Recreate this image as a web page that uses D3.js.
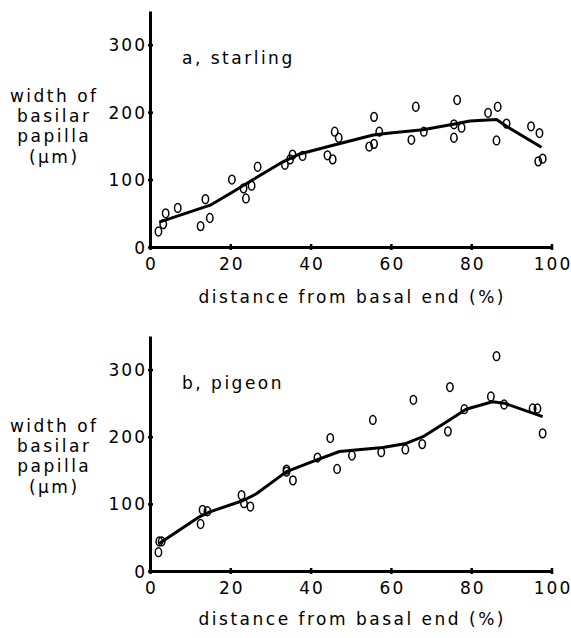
<!DOCTYPE html>
<html>
<head>
<meta charset="utf-8">
<script src="https://cdn.jsdelivr.net/npm/d3@7/dist/d3.min.js"></script>
<style>
	body { margin: 0; background: #fff; }
	text { font-family: "DejaVu Sans", sans-serif; font-size: 17px; fill: #000; letter-spacing: 2.5px; }
	.tick text { letter-spacing: 2px; }
</style>
</head>
<body>
<svg width="571" height="638"></svg>
<script>
// tick labels
var xTicks = [0, 20, 40, 60, 80, 100];
var yTicks = [0, 100, 200, 300];

// a, starling - measured points
var starlingX = [2.1, 3.3, 3.9, 6.9, 12.6, 13.8, 14.9, 20.4, 23.3, 23.9, 25.3, 26.8, 33.6, 34.9, 35.5, 38,
	44.2, 45.5, 46, 47, 54.6, 55.8, 55.8, 57.1, 65.1, 66.2, 68.2, 75.7, 75.7, 76.5, 77.6,
	84.2, 86.6, 86.3, 88.8, 94.9, 97, 96.7, 97.8];
var starlingY = [23, 34, 50, 58, 31, 71, 43, 100, 87, 72, 91, 119, 122, 130, 137, 135,
	136, 130, 171, 162, 149, 153, 193, 171, 159, 208, 171, 162, 182, 218, 177,
	199, 208, 158, 183, 179, 169, 127, 131];
// a, starling - fitted curve
var starlingLineX = [2.3, 15, 20.7, 25.7, 33, 37.3, 45.6, 55.6, 59.8, 68, 75.5, 79.7, 86.3, 88.8, 97.5];
var starlingLineY = [37, 62, 82, 100, 126, 138, 151, 166, 169, 174, 182, 187, 189, 179, 148];

// b, pigeon - measured points
var pigeonX = [2.1, 2.3, 2.9, 12.6, 13.1, 14.3, 22.8, 23.4, 25, 34, 34, 35.6, 41.7, 44.9, 46.6, 50.3,
	55.5, 57.6, 63.6, 65.6, 67.8, 74.2, 74.7, 78.3, 84.9, 86.3, 88.2, 95.3, 96.5, 97.8];
var pigeonY = [28, 44, 44, 70, 91, 89, 113, 101, 96, 151, 148, 135, 169, 198, 152, 172,
	225, 177, 181, 255, 189, 208, 274, 241, 260, 320, 248, 242, 242, 205];
// b, pigeon - fitted curve
var pigeonLineX = [2.3, 12.4, 14.9, 23.2, 26.5, 34, 41.4, 47.2, 50.5, 58, 63.8, 68, 74.6, 78.7, 85.3, 88.2, 97.8];
var pigeonLineY = [41, 81, 88, 105, 115, 148, 165, 178, 180, 184, 190, 200, 225, 241, 252, 250, 230];

var panels = [
	{label: "a, starling", px: starlingX, py: starlingY, lx: starlingLineX, ly: starlingLineY,
		y0: 247, yTop: 11, titleTop: 102, xTitle: 303},
	{label: "b, pigeon", px: pigeonX, py: pigeonY, lx: pigeonLineX, ly: pigeonLineY,
		y0: 571, yTop: 336, titleTop: 432, xTitle: 625}
];

var yTitle = ["width of", "basilar", "papilla", "(\u03bcm)"];
var xTitleText = "distance from basal end (%)";

var svg = d3.select("svg");
var ls = 2.5; // letter spacing of titles
var tls = 2; // letter spacing of tick labels

var x = d3.scaleLinear().domain([0, 100]).range([150, 551.5]);

panels.forEach(function(p) {
	var y = d3.scaleLinear().domain([0, 350]).range([p.y0, p.yTop]);
	var g = svg.append("g");

	// x axis
	var xa = g.append("g")
		.attr("transform", "translate(0," + p.y0 + ")")
		.call(d3.axisBottom(x).tickValues(xTicks).tickSizeInner(3).tickSizeOuter(0));
	xa.select(".domain").attr("stroke", "#000").attr("stroke-width", 3);
	xa.selectAll(".tick line").attr("stroke", "#000").attr("stroke-width", 2.5).attr("y1", -3);
	xa.selectAll(".tick text").attr("y", 23).attr("dy", 0).attr("dx", tls / 2);
	xa.attr("font-family", null).attr("font-size", null);

	// y axis
	var ya = g.append("g")
		.attr("transform", "translate(150,0)")
		.call(d3.axisLeft(y).tickValues(yTicks).tickSizeInner(3).tickSizeOuter(0));
	ya.select(".domain").attr("stroke", "#000").attr("stroke-width", 3);
	ya.selectAll(".tick line").attr("stroke", "#000").attr("stroke-width", 2.5).attr("x1", 3).attr("x2", -2);
	ya.selectAll(".tick text").attr("x", -5 + tls).attr("dy", "0.36em");
	ya.attr("font-family", null).attr("font-size", null);

	// panel label
	g.append("text")
		.attr("x", 182)
		.attr("y", y(300) + 19)
		.text(p.label);

	// y title
	g.append("g").selectAll("text")
		.data(yTitle)
		.enter().append("text")
		.attr("x", 53 + ls / 2)
		.attr("y", function(d, i) { return p.titleTop + i * 20.2; })
		.attr("text-anchor", "middle")
		.text(function(d) { return d; });

	// x title
	g.append("text")
		.attr("x", 351 + ls / 2)
		.attr("y", p.xTitle)
		.attr("text-anchor", "middle")
		.text(xTitleText);

	// fitted curve
	var line = d3.line()
		.x(function(d) { return x(d[0]); })
		.y(function(d) { return y(d[1]); });
	g.append("path")
		.datum(d3.zip(p.lx, p.ly))
		.attr("fill", "none")
		.attr("stroke", "#000")
		.attr("stroke-width", 3)
		.attr("stroke-linejoin", "round")
		.attr("d", line);

	// points
	g.append("g").selectAll("ellipse")
		.data(d3.zip(p.px, p.py))
		.enter().append("ellipse")
		.attr("cx", function(d) { return x(d[0]); })
		.attr("cy", function(d) { return y(d[1]); })
		.attr("rx", 3.2)
		.attr("ry", 4.4)
		.attr("fill", "none")
		.attr("stroke", "#000")
		.attr("stroke-width", 1.5);
});
</script>
</body>
</html>
